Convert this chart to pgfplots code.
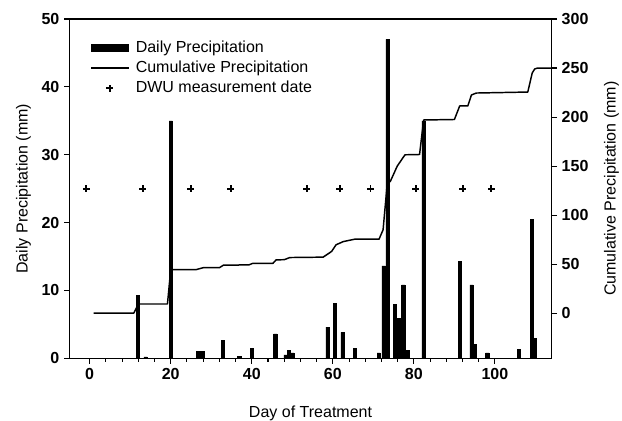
\documentclass[border=0pt]{standalone}
\usepackage{fontspec}
\setmainfont{Liberation Sans}
\usepackage{pgfplots}
\pgfplotsset{compat=1.18}

% daily precipitation (mm)
\pgfplotstableread{
day  p
11.9 9.3
13.8 0.2
20   35
26.8 1.0
27.8 1.0
32.9 2.6
36.9 0.3
40   1.5
45.8 3.6
48.3 0.5
49.2 1.2
50   0.8
58.7 4.6
60.5 8.1
62.4 3.8
65.5 1.5
71.3 0.8
72.5 13.6
73.5 47
75.3 7.9
76.3 5.9
77.4 10.8
78.4 1.1
82.4 35
91.3 14.3
94.2 10.8
95.0 2.0
98.1 0.8
105.9 1.3
109.1 20.5
109.9 2.9
}\daily

% cumulative precipitation (mm)
\pgfplotstableread{
day  c
1     0
10.9  0
12    9.3
19.2  9.3
20    44.3
26.2  44.3
28    46.3
32    46.3
33    48.9
36.5  48.9
37    49.2
39.3  49.2
40.2  50.7
45.2  50.7
46    54.3
48    54.5
49.4  56.7
57.6  57.1
59.7  62.9
60.8  69.7
62.6  73
65.4  75.4
71.4  75.4
72.4  85
73.4  131
74.2  134.5
75.9  150
77.8  161.5
81.4  161.8
82.4  197
90    197.5
91.3  211.3
93.3  211.3
94.2  222.5
95.4  224.5
108.1 225.5
109.2 245
109.8 249
110.5 250
114   250
}\cumul

\begin{document}
\begin{tikzpicture}
\pgfplotsset{
  every axis/.append style={
    scale only axis,
    width=361.5pt, height=254.25pt,
    xmin=-5, xmax=114,
    font=\fontsize{12}{14}\selectfont,
    tick label style={font=\fontsize{12}{14}\selectfont\bfseries},
    /pgf/number format/assume math mode=true,
    tick align=outside,
    major tick length=4pt,
    minor tick length=2.5pt,
    axis line style={line width=1pt},
    every tick/.style={black, line width=0.8pt},
  },
}
\begin{axis}[
  ymin=0, ymax=50,
  ytick={0,10,...,50},
  xtick={0,20,...,100},
  minor x tick num=4,
  xtick pos=bottom, ytick pos=left,
  xlabel={Day of Treatment},
  ylabel={Daily Precipitation (mm)},
  xlabel style={at={(axis description cs:0.5,-0.162)}, anchor=center},
  ylabel style={at={(axis description cs:-0.095,0.5)}, anchor=center},
  legend style={
    at={(axis description cs:0.035,0.95)}, anchor=north west,
    draw=none, fill=none, row sep=1.2pt,
    font=\fontsize{12}{14}\selectfont,
    nodes={inner sep=1.8pt},
    /tikz/every odd column/.append style={column sep=3pt},
  },
  legend cell align=left,
]
\coordinate (sw) at (rel axis cs:0,0);
\coordinate (ne) at (rel axis cs:1,1);
\addplot[ybar, bar width=0.8, fill=black, draw=black,
  legend image code/.code={\fill[black] (0pt,-2.6pt) rectangle (28pt,2.6pt);}]
  table[x=day, y=p] {\daily};
\addlegendentry{Daily Precipitation}
\addlegendimage{black, line width=1.1pt,
  legend image code/.code={\draw[black, line width=1.1pt] (0pt,0pt) -- (28pt,0pt);}}
\addlegendentry{Cumulative Precipitation}
\addplot[only marks, mark=+, mark size=2.6pt, line width=1.4pt, black,
  legend image code/.code={\draw[black, line width=1.4pt] (11.4pt,0pt) -- (16.6pt,0pt) (14pt,-2.6pt) -- (14pt,2.6pt);}]
  coordinates {(-0.8,25) (13.1,25) (25,25) (34.8,25) (53.6,25) (61.7,25) (69.3,25) (80.5,25) (92.1,25) (99.1,25)};
\addlegendentry{DWU measurement date}
\end{axis}

\begin{axis}[
  ymin=-46, ymax=300,
  ytick={0,50,...,300},
  axis x line=none,
  axis y line*=right,
  ytick pos=right,
  ylabel={Cumulative Precipitation (mm)},
  ylabel style={at={(axis description cs:1.124,0.5)}, anchor=center, rotate=0},
]
\addplot[black, line width=1.1pt, line join=round] table[x=day, y=c] {\cumul};
\end{axis}

\pgfresetboundingbox
\path[use as bounding box] ([shift={(-52pt,-46.5pt)}]sw) rectangle ([shift={(52.7pt,14.25pt)}]ne);
\end{tikzpicture}
\end{document}
